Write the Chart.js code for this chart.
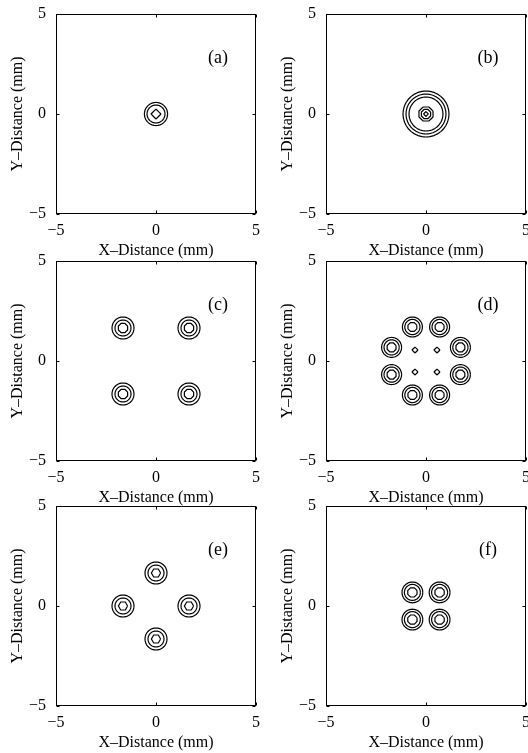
<!DOCTYPE html>
<html>
<head>
<meta charset="utf-8">
<script src="https://cdn.jsdelivr.net/npm/chart.js@4"></script>
<style>
  html, body { margin: 0; padding: 0; background: #fff; }
  #page { position: relative; width: 528px; height: 753px; overflow: hidden; background: #fff; }
  #page canvas { position: absolute; }
</style>
</head>
<body>
<div id="page"></div>
<script>
// axis ticks (mm)
const tickValues = [-5, 0, 5];
const panelLabels = ['(a)', '(b)', '(c)', '(d)', '(e)', '(f)'];

// spot centres (mm) for each panel
const centersA = [[0, 0]];
const centersB = [[0, 0]];
const centersC = [[-1.65, 1.65], [1.65, 1.65], [-1.65, -1.65], [1.65, -1.65]];
const centersD = [[-0.68, 1.7], [0.68, 1.7], [-1.72, 0.68], [1.72, 0.68],
                  [-1.72, -0.68], [1.72, -0.68], [-0.68, -1.7], [0.68, -1.7]];
const centersE = [[0, 1.65], [-1.65, 0], [1.65, 0], [0, -1.65]];
const centersF = [[-0.68, 0.68], [0.68, 0.68], [-0.68, -0.68], [0.68, -0.68]];
// small side lobes in (d)
const lobesD = [[-0.55, 0.55], [0.55, 0.55], [-0.55, -0.55], [0.55, -0.55]];

// contour level radii (mm), outer to inner, and vertex count of each loop
const radiiA = [0.58, 0.45, 0.25];       const sidesA = [36, 36, 4];
const radiiB = [1.15, 1.0, 0.85, 0.38, 0.25, 0.12]; const sidesB = [36, 36, 36, 8, 8, 4];
const radiiC = [0.55, 0.4, 0.25];        const sidesC = [36, 36, 8];
const radiiD = [0.5, 0.38, 0.24];        const sidesD = [36, 36, 8];
const radiiE = [0.55, 0.4, 0.23];        const sidesE = [36, 36, 6];
const radiiF = [0.52, 0.4, 0.25];        const sidesF = [36, 36, 8];
const lobeRadiiD = [0.15];               const lobeSidesD = [4];

const panels = [
  { spots: [[centersA, radiiA, sidesA]] },
  { spots: [[centersB, radiiB, sidesB]] },
  { spots: [[centersC, radiiC, sidesC]] },
  { spots: [[centersD, radiiD, sidesD], [lobesD, lobeRadiiD, lobeSidesD]] },
  { spots: [[centersE, radiiE, sidesE]] },
  { spots: [[centersF, radiiF, sidesF]] }
];

const SERIF = '"Liberation Serif", "Times New Roman", serif';
const tickFmt = v => v < 0 ? '\u2212' + Math.abs(v) : String(v);

// closed contour loop around a centre
function loop(cx, cy, r, n) {
  const pts = [];
  const rot = n === 8 ? Math.PI / 8 : 0;
  for (let i = 0; i <= n; i++) {
    const t = rot + 2 * Math.PI * i / n;
    pts.push({ x: cx + r * Math.cos(t), y: cy + r * Math.sin(t) });
  }
  return pts;
}

const framePlugin = {
  id: 'frame',
  afterDraw(chart, args, opts) {
    const { ctx, chartArea: a, scales: { x, y } } = chart;
    ctx.save();
    ctx.strokeStyle = '#000';
    ctx.lineWidth = 1;
    const L = Math.round(a.left) + 0.5, R = Math.round(a.right) - 0.5;
    const T = Math.round(a.top) + 0.5, B = Math.round(a.bottom) - 0.5;
    ctx.strokeRect(L, T, R - L, B - T);
    ctx.beginPath();
    tickValues.forEach(v => {
      const px = Math.round(x.getPixelForValue(v)) + 0.5;
      ctx.moveTo(px, B); ctx.lineTo(px, B - 3);
      ctx.moveTo(px, T); ctx.lineTo(px, T + 3);
      const py = Math.round(y.getPixelForValue(v)) + 0.5;
      ctx.moveTo(L, py); ctx.lineTo(L + 3, py);
      ctx.moveTo(R, py); ctx.lineTo(R - 3, py);
    });
    ctx.stroke();
    ctx.fillStyle = '#000';
    ctx.font = '18px ' + SERIF;
    ctx.textAlign = 'center';
    ctx.textBaseline = 'middle';
    ctx.fillText(opts.label, x.getPixelForValue(3.1), y.getPixelForValue(2.8));
    ctx.restore();
  }
};

const page = document.getElementById('page');
const plotLefts = [56, 326];
const plotTops = [14, 261, 506];

panels.forEach((p, i) => {
  const cv = document.createElement('canvas');
  cv.width = 264; cv.height = 260;
  cv.style.left = (plotLefts[i % 2] - 56) + 'px';
  cv.style.top = (plotTops[Math.floor(i / 2)] - 14) + 'px';
  page.appendChild(cv);

  const datasets = [];
  p.spots.forEach(([centers, radii, sides]) => {
    centers.forEach(([cx, cy]) => {
      radii.forEach((r, k) => {
        datasets.push({
          data: loop(cx, cy, r, sides[k]),
          showLine: true,
          borderColor: '#000',
          borderWidth: 1.2,
          pointRadius: 0,
          fill: false,
          tension: 0.001
        });
      });
    });
  });

  const axis = (title, isX) => ({
    type: 'linear',
    min: -5, max: 5,
    afterBuildTicks: s => { s.ticks = tickValues.map(v => ({ value: v })); },
    afterFit: s => {
      if (isX) s.height = 46; else s.width = 56;
      s.paddingLeft = s.paddingRight = s.paddingTop = s.paddingBottom = 0;
    },
    grid: { display: false, drawTicks: false },
    border: { display: false },
    ticks: {
      callback: tickFmt,
      color: '#000',
      font: { family: SERIF, size: 16 },
      padding: isX ? 7 : 10,
      maxRotation: 0,
      autoSkip: false
    },
    title: {
      display: true,
      text: title,
      color: '#000',
      font: { family: SERIF, size: 16 },
      padding: isX ? { top: 0, bottom: 0 } : { top: 8, bottom: 0 }
    }
  });

  new Chart(cv.getContext('2d'), {
    type: 'scatter',
    data: { datasets },
    options: {
      responsive: false,
      animation: false,
      devicePixelRatio: 1,
      layout: { padding: { top: 14, right: 8, left: 0, bottom: 0 } },
      plugins: {
        legend: { display: false },
        tooltip: { enabled: false },
        frame: { label: panelLabels[i] }
      },
      scales: {
        x: axis('X\u2013Distance (mm)', true),
        y: axis('Y\u2013Distance (mm)', false)
      }
    },
    plugins: [framePlugin]
  });
});
</script>
</body>
</html>
